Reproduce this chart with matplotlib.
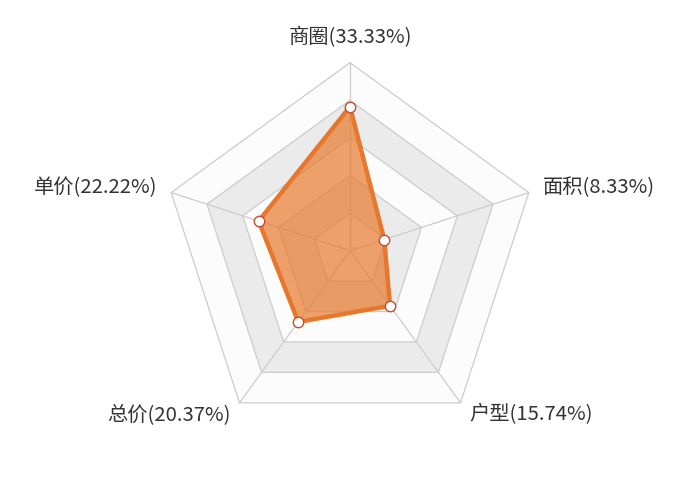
import numpy as np
import matplotlib
matplotlib.use("Agg")
import matplotlib.pyplot as plt
from matplotlib.patches import Polygon

plt.rcParams['font.family'] = ['Noto Sans CJK SC', 'DejaVu Sans']

categories = ['商圈', '面积', '户型', '总价', '单价']
values = [33.33, 8.33, 15.74, 20.37, 22.22]
labels = ['商圈(33.33%)', '面积(8.33%)', '户型(15.74%)', '总价(20.37%)', '单价(22.22%)']
max_value = 43.5
split_number = 5

W, H = 700, 500
cx_px, cy_px = 350, 250.7
R_px = 188.0

fig = plt.figure(figsize=(W / 100, H / 100), dpi=100)
ax = fig.add_axes([0, 0, 1, 1])
s = R_px / max_value  # px per unit
ax.set_xlim(-cx_px / s, (W - cx_px) / s)
ax.set_ylim(-(H - cy_px) / s, cy_px / s)
ax.set_aspect('equal')
ax.axis('off')

n = len(categories)
angles = np.pi / 2 - 2 * np.pi * np.arange(n) / n
ux, uy = np.cos(angles), np.sin(angles)

# split areas (alternating)
area_colors = ['#fcfcfc', '#ebebeb']
for i in range(split_number, 0, -1):
    r = max_value * i / split_number
    pts = np.column_stack([ux * r, uy * r])
    ax.add_patch(Polygon(pts, closed=True, facecolor=area_colors[(i - 1) % 2],
                         edgecolor='none', zorder=1))
# split lines
for i in range(1, split_number + 1):
    r = max_value * i / split_number
    xs = np.append(ux * r, ux[0] * r)
    ys = np.append(uy * r, uy[0] * r)
    ax.plot(xs, ys, color='#cccccc', lw=0.9, zorder=2)
# axis lines
for k in range(n):
    ax.plot([0, ux[k] * max_value], [0, uy[k] * max_value], color='#cccccc', lw=0.9, zorder=2)

# data
v = np.array(values)
px, py = ux * v, uy * v
ax.add_patch(Polygon(np.column_stack([px, py]), closed=True, facecolor='#e8792c',
                     alpha=0.7, edgecolor='none', zorder=3))
ax.plot(np.append(px, px[0]), np.append(py, py[0]), color='#e8772e', lw=3.2,
        solid_joinstyle='miter', zorder=4)
ax.plot(px, py, 'o', ms=7.5, mfc='white', mec='#c0502e', mew=1.0, zorder=5)

# names
gap = 15 / s
for k in range(n):
    r = max_value + gap
    x, y = ux[k] * r, uy[k] * r
    if abs(ux[k]) < 1e-6:
        ha = 'center'
    elif ux[k] > 0:
        ha = 'left'
    else:
        ha = 'right'
    va = 'bottom' if uy[k] > 0.99 else 'center'
    ax.text(x, y, labels[k], ha=ha, va=va, fontsize=14.6, color='#333333', zorder=6)

fig.savefig('out.png', dpi=100, facecolor='white')
